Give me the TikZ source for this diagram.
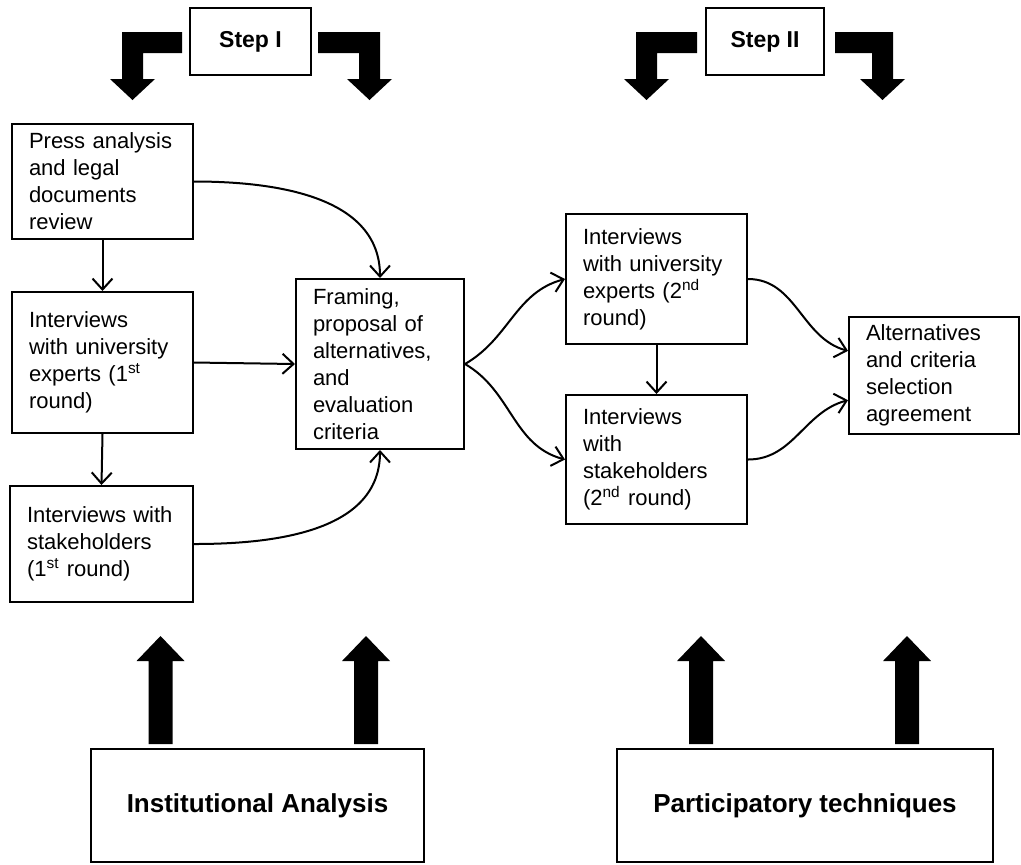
\documentclass[tikz,border=0pt]{standalone}
\usepackage{fontspec}
\setmainfont{Liberation Sans}
\usetikzlibrary{arrows.meta}

\begin{document}
\begin{tikzpicture}
[x=.5pt,y=-.5pt]
\tikzset{box/.style={draw,line width=1pt,align=left,inner xsep=8.5pt,inner ysep=0pt,font=\fontsize{11}{13.5}\selectfont}}
\tikzset{stepbox/.style={draw,line width=1.4pt,font=\fontsize{11.5}{13}\selectfont\bfseries}}
\tikzset{basebox/.style={draw,line width=1pt,font=\fontsize{13}{15}\selectfont\bfseries}}
\tikzset{link/.style={line width=1pt,-{Straight Barb[length=5.5pt,width=10pt]}}}
\useasboundingbox (0,0) rectangle (1021,864);

\node [stepbox,minimum width=60.5pt,minimum height=33.5pt] (step1) at (250.5,41.5) {Step I};
\node [stepbox,minimum width=59pt,minimum height=33.5pt] (step2) at (765,41.5) {Step II};

\node [box,text width=73.5pt,minimum height=57.5pt] (press) at (102.5,181.5) {Press analysis\\and legal\\documents\\review};
\node [box,text width=73.5pt,minimum height=70.5pt] (univ1) at (102.5,362.5) {Interviews\\with university\\experts (1\textsuperscript{st}\\round)};
\node [box,text width=74.5pt,minimum height=58pt] (stake1) at (101.5,544) {Interviews with\\stakeholders\\(1\textsuperscript{st} round)};
\node [box,text width=67pt,minimum height=85pt] (framing) at (380,364) {Framing,\\proposal of\\alternatives,\\and\\evaluation\\criteria};
\node [box,text width=73.5pt,minimum height=65pt] (univ2) at (656.5,279) {Interviews\\with university\\experts (2\textsuperscript{nd}\\round)};
\node [box,text width=73.5pt,minimum height=64.5pt] (stake2) at (656.5,459.5) {Interviews\\with\\stakeholders\\(2\textsuperscript{nd} round)};
\node [box,text width=68pt,minimum height=58.5pt] (alt) at (934,375.5) {Alternatives\\and criteria\\selection\\agreement};

\node [basebox,minimum width=166.5pt,minimum height=56.5pt] (inst) at (257.5,805.5) {Institutional Analysis};
\node [basebox,minimum width=188pt,minimum height=56.5pt] (part) at (805,805.5) {Participatory techniques};

% bent block arrows under the steps
\foreach \a/\b/\d in {122/182/1,380/318/-1,636/697/1,893/835/-1}
	\fill (\b,32) -- (\a,32) -- (\a,79) -- (\a-12*\d,79) -- (\a+10.5*\d,100)
		-- (\a+33*\d,79) -- (\a+21*\d,79) -- (\a+21*\d,53) -- (\b,53) -- cycle;
% block arrows over the bases
\foreach \c in {160.5,366,701,907}
	\fill (\c-12,744) -- (\c-12,661) -- (\c-24,661) -- (\c,636)
		-- (\c+24,661) -- (\c+12,661) -- (\c+12,744) -- cycle;

\foreach \from/\to in {press.south/univ1.north,univ1.south/stake1.north,univ1.east/framing.west,univ2.south/stake2.north}
	\draw [link] (\from) -- (\to);
\foreach \from/\to/\o/\i in {press.east/framing.north/0/90,stake1.east/framing.south/0/-90,framing.east/univ2.west/30/195,framing.east/stake2.west/-30/165,univ2.east/alt.164/0/165,stake2.east/alt.196/0/195}
	\draw [link] (\from) to [out=\o,in=\i] (\to);
\end{tikzpicture}
\end{document}
